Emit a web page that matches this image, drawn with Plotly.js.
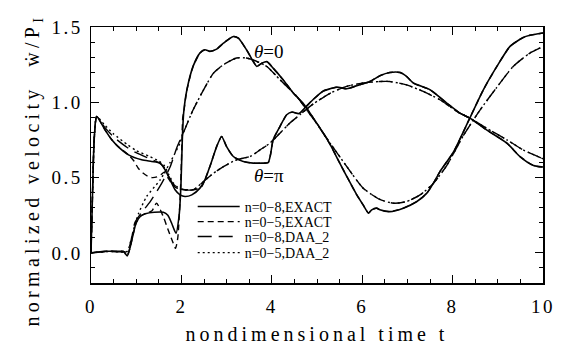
<!DOCTYPE html>
<html>
<head>
<meta charset="utf-8">
<script src="https://cdn.plot.ly/plotly-3.0.1.min.js"></script>
<style>
html,body{margin:0;padding:0;background:#fff;}
#chart{width:563px;height:345px;}
.xtitle{letter-spacing:4px;}
.xtick text,.ytick text{letter-spacing:2.5px;}
</style>
</head>
<body>
<div id="chart"></div>
<script>
// ---- data ----
var seriesNames = ["n=0\u22128,EXACT", "n=0\u22125,EXACT", "n=0\u22128,DAA_2", "n=0\u22125,DAA_2"];

// theta = 0, n=0-8 EXACT (solid)
var exact8_th0_t = [0, 0.3, 0.6, 0.72, 0.8, 0.86, 0.93, 1.0, 1.1, 1.2, 1.4, 1.6, 1.7, 1.78, 1.88, 1.95, 1.99, 2.02, 2.05, 2.12, 2.26, 2.41, 2.52, 2.63, 2.78, 2.93, 3.15, 3.26, 3.44, 3.59, 3.67, 3.78, 3.89, 4.03, 4.25, 4.48, 4.70, 4.92, 5.14, 5.29, 5.48, 5.66, 5.88, 6.02, 6.14, 6.21, 6.32, 6.39, 6.61, 6.91, 7.21, 7.43, 7.57, 7.72, 8.02, 8.38, 8.68, 8.98, 9.27, 9.56, 9.71, 10.0];
var exact8_th0_v = [0, 0.01, 0.01, 0.01, -0.02, 0.03, 0.12, 0.2, 0.245, 0.26, 0.27, 0.27, 0.25, 0.2, 0.13, 0.25, 0.45, 0.75, 0.93, 1.08, 1.24, 1.327, 1.349, 1.338, 1.353, 1.393, 1.437, 1.426, 1.349, 1.271, 1.238, 1.26, 1.27, 1.227, 1.15, 1.06, 0.99, 0.895, 0.795, 0.72, 0.61, 0.507, 0.385, 0.319, 0.264, 0.286, 0.297, 0.286, 0.274, 0.297, 0.341, 0.397, 0.46, 0.54, 0.67, 0.895, 1.083, 1.238, 1.371, 1.43, 1.445, 1.46];

// theta = 0, n=0-5 EXACT (short dash) — part that differs, then follows n=0-8
var exact5_th0_t = [0, 0.3, 0.6, 0.72, 0.8, 0.86, 0.93, 1.0, 1.1, 1.2, 1.35, 1.45, 1.6, 1.71, 1.82, 1.87, 1.92, 1.97, 2.0, 2.03];
var exact5_th0_v = [0, 0.01, 0.01, 0.01, -0.02, 0.03, 0.12, 0.2, 0.245, 0.26, 0.28, 0.33, 0.24, 0.15, 0.064, 0.03, 0.1, 0.35, 0.6, 0.9];

// theta = 0, n=0-8 DAA_2 (long dash)
var daa8_th0_t = [0, 0.4, 0.8, 0.9, 0.97, 1.1, 1.31, 1.56, 1.75, 1.9, 2.04, 2.26, 2.49, 2.71, 2.93, 3.22, 3.44, 3.67, 3.89, 4.18, 4.55, 4.77, 4.92, 5.29, 5.66, 6.02, 6.39, 6.69, 6.98, 7.28, 7.57, 7.87, 8.24, 8.61, 8.98, 9.34, 9.71, 10.0];
var daa8_th0_v = [0, 0.01, 0.01, 0.1, 0.2, 0.26, 0.34, 0.46, 0.57, 0.70, 0.795, 0.95, 1.083, 1.194, 1.249, 1.294, 1.294, 1.271, 1.238, 1.15, 1.04, 0.95, 0.89, 0.729, 0.573, 0.43, 0.355, 0.33, 0.341, 0.385, 0.46, 0.58, 0.78, 0.95, 1.1, 1.238, 1.327, 1.37];

// theta = 0, n=0-5 DAA_2 (dotted) — part that differs, then follows n=0-8 DAA_2
var daa5_th0_t = [0, 0.4, 0.8, 0.88, 0.94, 1.05, 1.23, 1.53, 1.75, 1.97];
var daa5_th0_v = [0, 0.01, 0.01, 0.08, 0.153, 0.26, 0.374, 0.485, 0.6, 0.73];

// theta = pi, n=0-8 EXACT (solid)
var exact8_thpi_t = [0, 0.03, 0.07, 0.126, 0.31, 0.46, 0.60, 0.83, 1.12, 1.34, 1.53, 1.64, 1.75, 1.86, 1.97, 2.08, 2.23, 2.41, 2.52, 2.63, 2.78, 2.89, 3.00, 3.15, 3.37, 3.59, 3.78, 3.92, 3.97, 4.03, 4.18, 4.33, 4.45, 4.60, 4.77, 4.92, 5.14, 5.29, 5.44, 5.66, 5.88, 6.17, 6.39, 6.61, 6.84, 6.98, 7.13, 7.50, 7.87, 8.16, 8.38, 8.75, 9.20, 9.49, 9.79, 10.0];
var exact8_thpi_v = [0, 0.35, 0.75, 0.906, 0.817, 0.751, 0.706, 0.651, 0.618, 0.607, 0.596, 0.551, 0.485, 0.419, 0.385, 0.374, 0.385, 0.43, 0.485, 0.573, 0.706, 0.773, 0.706, 0.64, 0.607, 0.596, 0.596, 0.60, 0.65, 0.751, 0.839, 0.917, 0.935, 0.925, 0.975, 1.02, 1.075, 1.09, 1.101, 1.09, 1.11, 1.138, 1.176, 1.198, 1.198, 1.172, 1.128, 1.083, 0.995, 0.928, 0.895, 0.817, 0.729, 0.64, 0.58, 0.57];

// theta = pi, n=0-5 EXACT (short dash) — part that differs, then follows n=0-8
var exact5_thpi_t = [0, 0.03, 0.07, 0.126, 0.31, 0.46, 0.6, 0.83, 0.95, 1.05, 1.15, 1.25, 1.35, 1.46, 1.55, 1.62, 1.7, 1.8, 1.9, 2.0, 2.1, 2.3, 2.45, 2.52];
var exact5_thpi_v = [0, 0.35, 0.75, 0.906, 0.817, 0.751, 0.706, 0.651, 0.61, 0.56, 0.53, 0.51, 0.50, 0.505, 0.52, 0.535, 0.5, 0.455, 0.43, 0.425, 0.42, 0.42, 0.44, 0.485];

// theta = pi, n=0-8 DAA_2 (long dash)
var daa8_thpi_t = [0, 0.03, 0.07, 0.126, 0.3, 0.5, 0.8, 1.0, 1.3, 1.5, 1.6, 1.7, 1.8, 1.9, 2.04, 2.26, 2.49, 2.71, 2.93, 3.22, 3.52, 3.74, 3.96, 4.18, 4.40, 4.62, 4.92, 5.29, 5.66, 6.02, 6.39, 6.61, 6.98, 7.35, 7.72, 8.09, 8.38, 8.75, 9.20, 9.56, 10.0];
var daa8_thpi_v = [0, 0.35, 0.75, 0.906, 0.835, 0.77, 0.70, 0.665, 0.625, 0.60, 0.575, 0.52, 0.465, 0.435, 0.419, 0.419, 0.474, 0.529, 0.573, 0.618, 0.64, 0.684, 0.729, 0.795, 0.862, 0.917, 0.99, 1.06, 1.106, 1.128, 1.138, 1.138, 1.116, 1.072, 1.017, 0.94, 0.895, 0.828, 0.751, 0.684, 0.625];

// theta = pi, n=0-5 DAA_2 (dotted) — part that differs, then follows n=0-8 DAA_2
var daa5_thpi_t = [0, 0.03, 0.07, 0.126, 0.3, 0.5, 0.8, 1.0, 1.3, 1.5, 1.62, 1.72, 1.82, 1.92, 2.04];
var daa5_thpi_v = [0, 0.35, 0.75, 0.906, 0.85, 0.79, 0.72, 0.68, 0.64, 0.61, 0.58, 0.52, 0.465, 0.435, 0.419];

var curveLabels = ["<i>\u03b8</i>=0", "<i>\u03b8</i>=\u03c0"];
var curveLabelT = [3.94, 3.94];
var curveLabelV = [1.336, 0.514];

var xTickVals = [0, 2, 4, 6, 8, 10];
var yTickVals = [0.0, 0.5, 1.0, 1.5];
var yTickText = ["0.0", "0.5", "1.0", "1.5"];

var xTitle = "nondimensional time t";
var yTitle = "normalized velocity\u00a0\u00a0\u1e87/P<sub>I</sub>";

// ---- build ----
function join(preT, preV, fullT, fullV) {
  var last = preT[preT.length - 1];
  var t = preT.slice(), v = preV.slice();
  for (var i = 0; i < fullT.length; i++) {
    if (fullT[i] > last) { t.push(fullT[i]); v.push(fullV[i]); }
  }
  return {t: t, v: v};
}

var styles = [
  {dash: "solid", width: 1.6},
  {dash: "6px,4px", width: 1.4},
  {dash: "14px,7px", width: 1.4},
  {dash: "2px,3px", width: 1.4}
];

var e5_0 = join(exact5_th0_t, exact5_th0_v, exact8_th0_t, exact8_th0_v);
var d5_0 = join(daa5_th0_t, daa5_th0_v, daa8_th0_t, daa8_th0_v);
var e5_p = join(exact5_thpi_t, exact5_thpi_v, exact8_thpi_t, exact8_thpi_v);
var d5_p = join(daa5_thpi_t, daa5_thpi_v, daa8_thpi_t, daa8_thpi_v);

var groups = [
  [{t: exact8_th0_t, v: exact8_th0_v}, e5_0, {t: daa8_th0_t, v: daa8_th0_v}, d5_0],
  [{t: exact8_thpi_t, v: exact8_thpi_v}, e5_p, {t: daa8_thpi_t, v: daa8_thpi_v}, d5_p]
];

var legendIds = ["legend", "legend2", "legend3", "legend4"];
var traces = [];
for (var s = 0; s < 4; s++) {
  for (var g = 0; g < 2; g++) {
    traces.push({
      x: groups[g][s].t,
      y: groups[g][s].v,
      type: "scatter",
      mode: "lines",
      name: seriesNames[s],
      legend: legendIds[s],
      legendgroup: "s" + s,
      showlegend: g === 0,
      line: {color: "#000", width: styles[s].width, dash: styles[s].dash, shape: "spline", smoothing: 0.6},
      hoverinfo: "skip"
    });
  }
}

var fontFam = "Liberation Serif";
var annotations = curveLabels.map(function (txt, i) {
  return {x: curveLabelT[i], y: curveLabelV[i], xref: "x", yref: "y", text: txt,
          showarrow: false, xanchor: "center", yanchor: "middle",
          font: {family: fontFam, size: 19, color: "#000"}};
});
annotations.push({
  x: -0.128, y: 0.44, xref: "paper", yref: "paper",
  text: '<span style="letter-spacing:4.3px">' + yTitle + '</span>',
  textangle: -90, showarrow: false, xanchor: "center", yanchor: "middle",
  font: {family: fontFam, size: 20, color: "#000"}
});

var axisCommon = {
  showgrid: false, zeroline: false,
  showline: true, linecolor: "#000", linewidth: 1.5, mirror: "allticks",
  ticks: "inside", ticklen: 8, tickwidth: 1, tickcolor: "#000",
  tickfont: {family: fontFam, size: 19, color: "#000"},
  automargin: false
};

var legendY = [0.297, 0.238, 0.180, 0.117];
var layout = {
  width: 563, height: 345,
  margin: {l: 91, r: 20, t: 27, b: 62},
  paper_bgcolor: "#fff", plot_bgcolor: "#fff",
  font: {family: fontFam},
  showlegend: true,
  xaxis: Object.assign({}, axisCommon, {
    range: [0, 10], tickvals: xTickVals, ticklabelstandoff: 6,
    minor: {dtick: 0.5, ticks: "inside", ticklen: 4, tickwidth: 1, tickcolor: "#000"},
    title: {text: xTitle, font: {family: fontFam, size: 20, color: "#000"}, standoff: 12}
  }),
  yaxis: Object.assign({}, axisCommon, {
    range: [-0.2, 1.5], tickvals: yTickVals, ticktext: yTickText, ticklabelstandoff: 3,
    minor: {dtick: 0.1, ticks: "inside", ticklen: 4, tickwidth: 1, tickcolor: "#000"}
  }),
  annotations: annotations
};
legendIds.forEach(function (id, i) {
  layout[id] = {x: 0.225, y: legendY[i], xanchor: "left", yanchor: "middle",
                bgcolor: "rgba(0,0,0,0)", borderwidth: 0, itemwidth: 42,
                font: {family: fontFam, size: 14, color: "#000"}};
});

Plotly.newPlot("chart", traces, layout, {displayModeBar: false, staticPlot: true});
</script>
</body>
</html>
